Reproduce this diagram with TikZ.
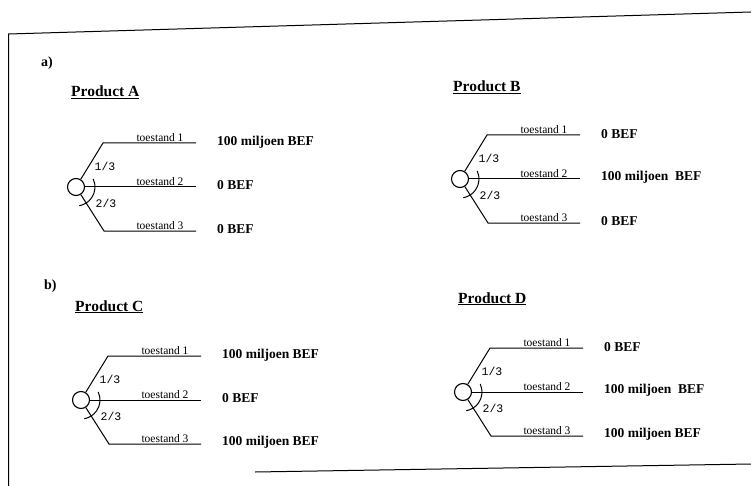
\documentclass[tikz,border=0pt]{standalone}
\usepackage{fontspec}
\setmainfont{Liberation Serif}
\newfontfamily\fracfont{Liberation Mono}
\tikzset{
  frame/.style={line width=1pt, black},
  branch/.style={line width=1pt, black},
  chance/.style={circle, draw, line width=1.1pt, minimum size=17pt, inner sep=0pt},
  statelbl/.style={anchor=south, inner sep=1pt, font=\fontsize{11.5}{13}\selectfont},
  valuelbl/.style={anchor=west, inner sep=0pt, font=\fontsize{13.5}{15}\selectfont\bfseries},
  fraclbl/.style={inner sep=0pt, font=\fontsize{11.5}{13}\fracfont},
  titlelbl/.style={anchor=base west, inner sep=0pt, font=\fontsize{15.5}{18}\selectfont\bfseries},
  partlbl/.style={anchor=west, inner sep=0pt, font=\fontsize{14}{16}\selectfont\bfseries}
}
\newcommand{\dectree}[6]{%
  \begin{scope}[shift={(#2,#3)}]
    \node[chance] (#1c) at (0,0) {};
    \coordinate (#1u) at (27,-44);
    \coordinate (#1ue) at (120,-44);
    \coordinate (#1me) at (120,0);
    \coordinate (#1l) at (28,44);
    \coordinate (#1le) at (120,44);
    \draw[branch] (#1c) -- (#1u) -- (#1ue);
    \draw[branch] (#1c) -- (#1me);
    \draw[branch] (#1c) -- (#1l) -- (#1le);
    \draw[branch] ([shift={(25:19pt)}]#1c.center) arc[start angle=25, end angle=-80, radius=19pt];
    \node[statelbl] (#1s1) at (84,-44) {toestand 1};
    \node[statelbl] (#1s2) at (84,0) {toestand 2};
    \node[statelbl] (#1s3) at (84,44) {toestand 3};
    \node[fraclbl] (#1f1) at (29,-21) {1/3};
    \node[fraclbl] (#1f2) at (30,16) {2/3};
    \node[valuelbl] (#1v1) at (141,-45) {#4};
    \node[valuelbl] (#1v2) at (141,-2) {#5};
    \node[valuelbl] (#1v3) at (141,42) {#6};
  \end{scope}}
\begin{document}
\begin{tikzpicture}[x=1pt, y=-1pt]
  \useasboundingbox (0,0) rectangle (751,486);
  % frame
  \draw[frame] (8.5,486) -- (8.5,34) -- (751,12);
  \draw[frame] (255,472) -- (751,464);
  % part labels
  \node[partlbl] (pa) at (41,63) {a)};
  \node[partlbl] (pb) at (44,286) {b)};
  % titles
  \node[titlelbl] (tA) at (71,97) {\underline{Product A}};
  \node[titlelbl] (tB) at (453,92) {\underline{Product B}};
  \node[titlelbl] (tC) at (75,311) {\underline{Product C}};
  \node[titlelbl] (tD) at (458,303) {\underline{Product D}};
  % trees
  \dectree{A}{76}{187}{100 miljoen BEF}{0 BEF}{0 BEF}
  \dectree{B}{460}{179}{0 BEF}{100 miljoen\hspace{0.5em}BEF}{0 BEF}
  \dectree{C}{81}{400}{100 miljoen BEF}{0 BEF}{100 miljoen BEF}
  \dectree{D}{463}{392}{0 BEF}{100 miljoen\hspace{0.5em}BEF}{100 miljoen BEF}
\end{tikzpicture}
\end{document}
